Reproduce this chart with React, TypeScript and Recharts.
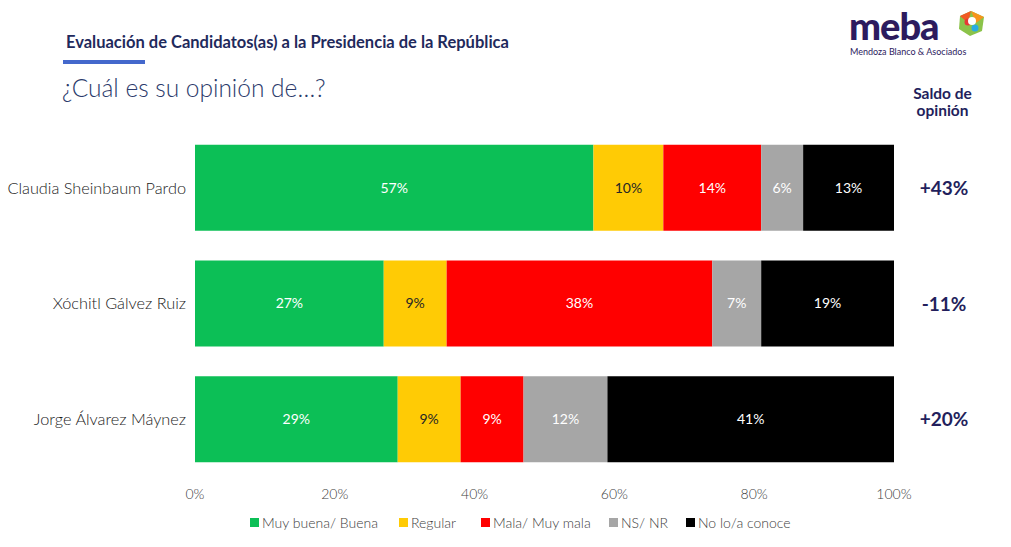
import React from "react";
import { BarChart, Bar, XAxis, YAxis, LabelList, Legend } from "recharts";

const candidates = ["Claudia Sheinbaum Pardo", "Xóchitl Gálvez Ruiz", "Jorge Álvarez Máynez"];
const muyBuena = [57, 27, 29];
const regular = [10, 9, 9];
const mala = [14, 38, 9];
const nsnr = [6, 7, 12];
const noConoce = [13, 19, 41];
const saldo = ["+43%", "-11%", "+20%"];
const xTicks = [0, 20, 40, 60, 80, 100];

const seriesDefs = [
  { key: "muyBuena", name: "Muy buena/ Buena", color: "#0CBF56", text: "#ffffff" },
  { key: "regular", name: "Regular", color: "#FFCB05", text: "#262626" },
  { key: "mala", name: "Mala/ Muy mala", color: "#FF0000", text: "#ffffff" },
  { key: "nsnr", name: "NS/ NR", color: "#A6A6A6", text: "#ffffff" },
  { key: "noConoce", name: "No lo/a conoce", color: "#000000", text: "#ffffff" },
];

const data = candidates.map((name, i) => ({
  name,
  muyBuena: muyBuena[i],
  regular: regular[i],
  mala: mala[i],
  nsnr: nsnr[i],
  noConoce: noConoce[i],
  saldo: saldo[i],
}));

const FONT = "Lato, 'Open Sans', sans-serif";

const RightTick = (props: any) => {
  const { x, y, payload } = props;
  return (
    <text x={x + 42} y={y} dy={7} textAnchor="middle" fontFamily={FONT} fontSize={19} fontWeight={700} fill="#231F5C">
      {payload.value}
    </text>
  );
};

const LegendContent = () => {
  const xs = [250, 399, 481, 609, 686];
  return (
    <div style={{ position: "relative", width: 700, height: 20, fontFamily: FONT, fontSize: 14, fontWeight: 300, color: "#404040" }}>
      {seriesDefs.map((s, i) => (
        <div key={s.key} style={{ position: "absolute", left: xs[i] - 250, top: 0, display: "flex", alignItems: "center", whiteSpace: "nowrap" }}>
          <span style={{ display: "inline-block", width: 9, height: 9, background: s.color, marginRight: 3 }} />
          <span>{s.name}</span>
        </div>
      ))}
    </div>
  );
};

export default function App() {
  return (
    <div style={{ position: "absolute", left: 0, top: 0, width: 1011, height: 547, background: "#ffffff", overflow: "hidden" }}>
      <div style={{ position: "absolute", left: 66, top: 32, fontFamily: FONT, fontWeight: 700, fontSize: 16.5, lineHeight: "20px", color: "#1F2A5C", whiteSpace: "nowrap" }}>
        Evaluación de Candidatos(as) a la Presidencia de la República
      </div>
      <div style={{ position: "absolute", left: 63, top: 60, width: 82, height: 4, background: "#4468CC" }} />
      <div style={{ position: "absolute", left: 62, top: 73, fontFamily: FONT, fontWeight: 300, fontSize: 24.5, lineHeight: "30px", color: "#2B3A6B", whiteSpace: "nowrap" }}>
        ¿Cuál es su opinión de…?
      </div>
      <div style={{ position: "absolute", left: 880, top: 85, width: 125, textAlign: "center", fontFamily: FONT, fontWeight: 700, fontSize: 15.5, lineHeight: "17px", color: "#231F5C" }}>
        Saldo de
        <br />
        opinión
      </div>
      <svg style={{ position: "absolute", left: 840, top: 0 }} width={171} height={60}>
        <text x={9} y={40} fontFamily={FONT} fontWeight={900} fontSize={38} letterSpacing={-1} fill="#2D1B5E">
          meba
        </text>
        <text x={10} y={55} fontFamily={FONT} fontSize={9} fill="#2D1B5E">
          Mendoza Blanco &amp; Asociados
        </text>
        <g transform="translate(116,9)">
          <path d="M15 2 L28 8 L26 22 L14 27 L3 20 L4 7 Z" fill="#8BC34A" />
          <path d="M15 2 L28 8 L20 14 Z" fill="#F7941D" />
          <path d="M4 7 L15 2 L12 14 Z" fill="#F15A24" />
          <circle cx="12" cy="13" r="3.5" fill="#E53935" />
          <circle cx="19" cy="19" r="3.5" fill="#29ABE2" />
          <circle cx="16" cy="12" r="4" fill="#ffffff" />
        </g>
      </svg>
      <div style={{ position: "absolute", left: 0, top: 0 }}>
        <BarChart
          width={1011}
          height={547}
          data={data}
          layout="vertical"
          margin={{ top: 130, right: 0, bottom: 0, left: 0 }}
          barCategoryGap="12.8%"
        >
          <XAxis
            type="number"
            domain={[0, 100]}
            ticks={xTicks}
            tickFormatter={(v: number) => `${v}%`}
            axisLine={false}
            tickLine={false}
            tickMargin={6}
            height={50}
            tick={{ fontFamily: FONT, fontSize: 14, fontWeight: 300, fill: "#404040" }}
          />
          <YAxis
            type="category"
            dataKey="name"
            yAxisId="left"
            width={195}
            axisLine={false}
            tickLine={false}
            tickMargin={3}
            tick={{ fontFamily: FONT, fontSize: 16.3, fontWeight: 300, fill: "#1a1a1a" }}
          />
          <YAxis
            type="category"
            dataKey="saldo"
            yAxisId="right"
            orientation="right"
            width={117}
            axisLine={false}
            tickLine={false}
            tick={<RightTick />}
          />
          <Legend
            content={<LegendContent />}
            wrapperStyle={{ position: "absolute", left: 250, top: 514, width: 700, height: 20 }}
          />
          {seriesDefs.map((s) => (
            <Bar key={s.key} dataKey={s.key} name={s.name} stackId="a" yAxisId="left" fill={s.color} isAnimationActive={false}>
              <LabelList
                dataKey={s.key}
                position="center"
                formatter={(v: any) => `${v}%`}
                style={{ fontFamily: FONT, fontSize: 14, fontWeight: 400, fill: s.text }}
              />
            </Bar>
          ))}
        </BarChart>
      </div>
    </div>
  );
}
